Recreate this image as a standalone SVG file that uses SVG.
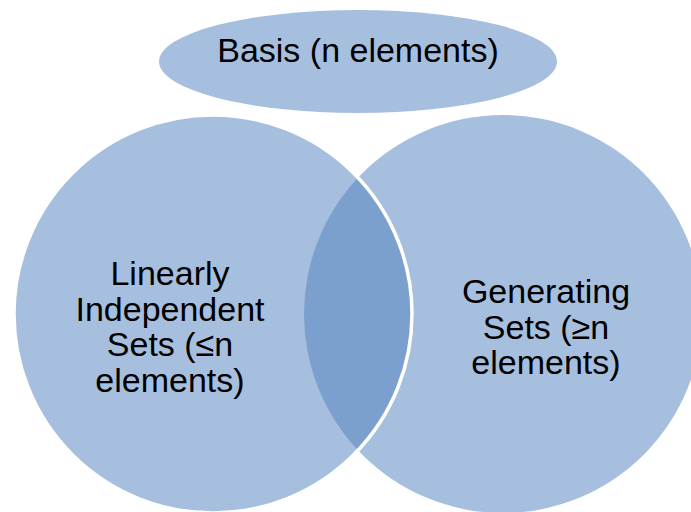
<svg xmlns="http://www.w3.org/2000/svg" width="691" height="512" viewBox="0 0 691 512">
  <style>
    .set { fill: #A7BFDE; }
    .lens { fill: #7BA0CD; }
    .edge { fill: none; stroke: #FFFFFF; stroke-width: 3.5; }
    .lbl { font-family: "Liberation Sans", Arial, sans-serif; fill: #000000; text-anchor: middle; font-size: 34px; }
  </style>
  <rect width="691" height="512" fill="#FFFFFF"/>
  <g id="basis">
    <ellipse class="set" cx="358" cy="61.5" rx="199" ry="51.5"/>
    <text class="lbl" x="358" y="62">Basis (n elements)</text>
  </g>
  <g id="generating">
    <circle class="set" cx="503" cy="314" r="199"/>
  </g>
  <g id="independent">
    <circle class="set" cx="213" cy="314" r="199"/>
  </g>
  <g id="intersection">
    <path class="lens" d="M358,177.7 A199,199 0 0 1 358,450.3 A199,199 0 0 1 358,177.7 Z"/>
    <circle class="edge" cx="213" cy="314" r="199"/>
  </g>
  <g id="labels">
    <text class="lbl" x="170" y="285">Linearly</text>
    <text class="lbl" x="170" y="320.7">Independent</text>
    <text class="lbl" x="170" y="356.4">Sets (≤n</text>
    <text class="lbl" x="170" y="392">elements)</text>
    <text class="lbl" x="546" y="303">Generating</text>
    <text class="lbl" x="546" y="338.5">Sets (≥n</text>
    <text class="lbl" x="546" y="374">elements)</text>
  </g>
  <g id="connectors"/>
</svg>
